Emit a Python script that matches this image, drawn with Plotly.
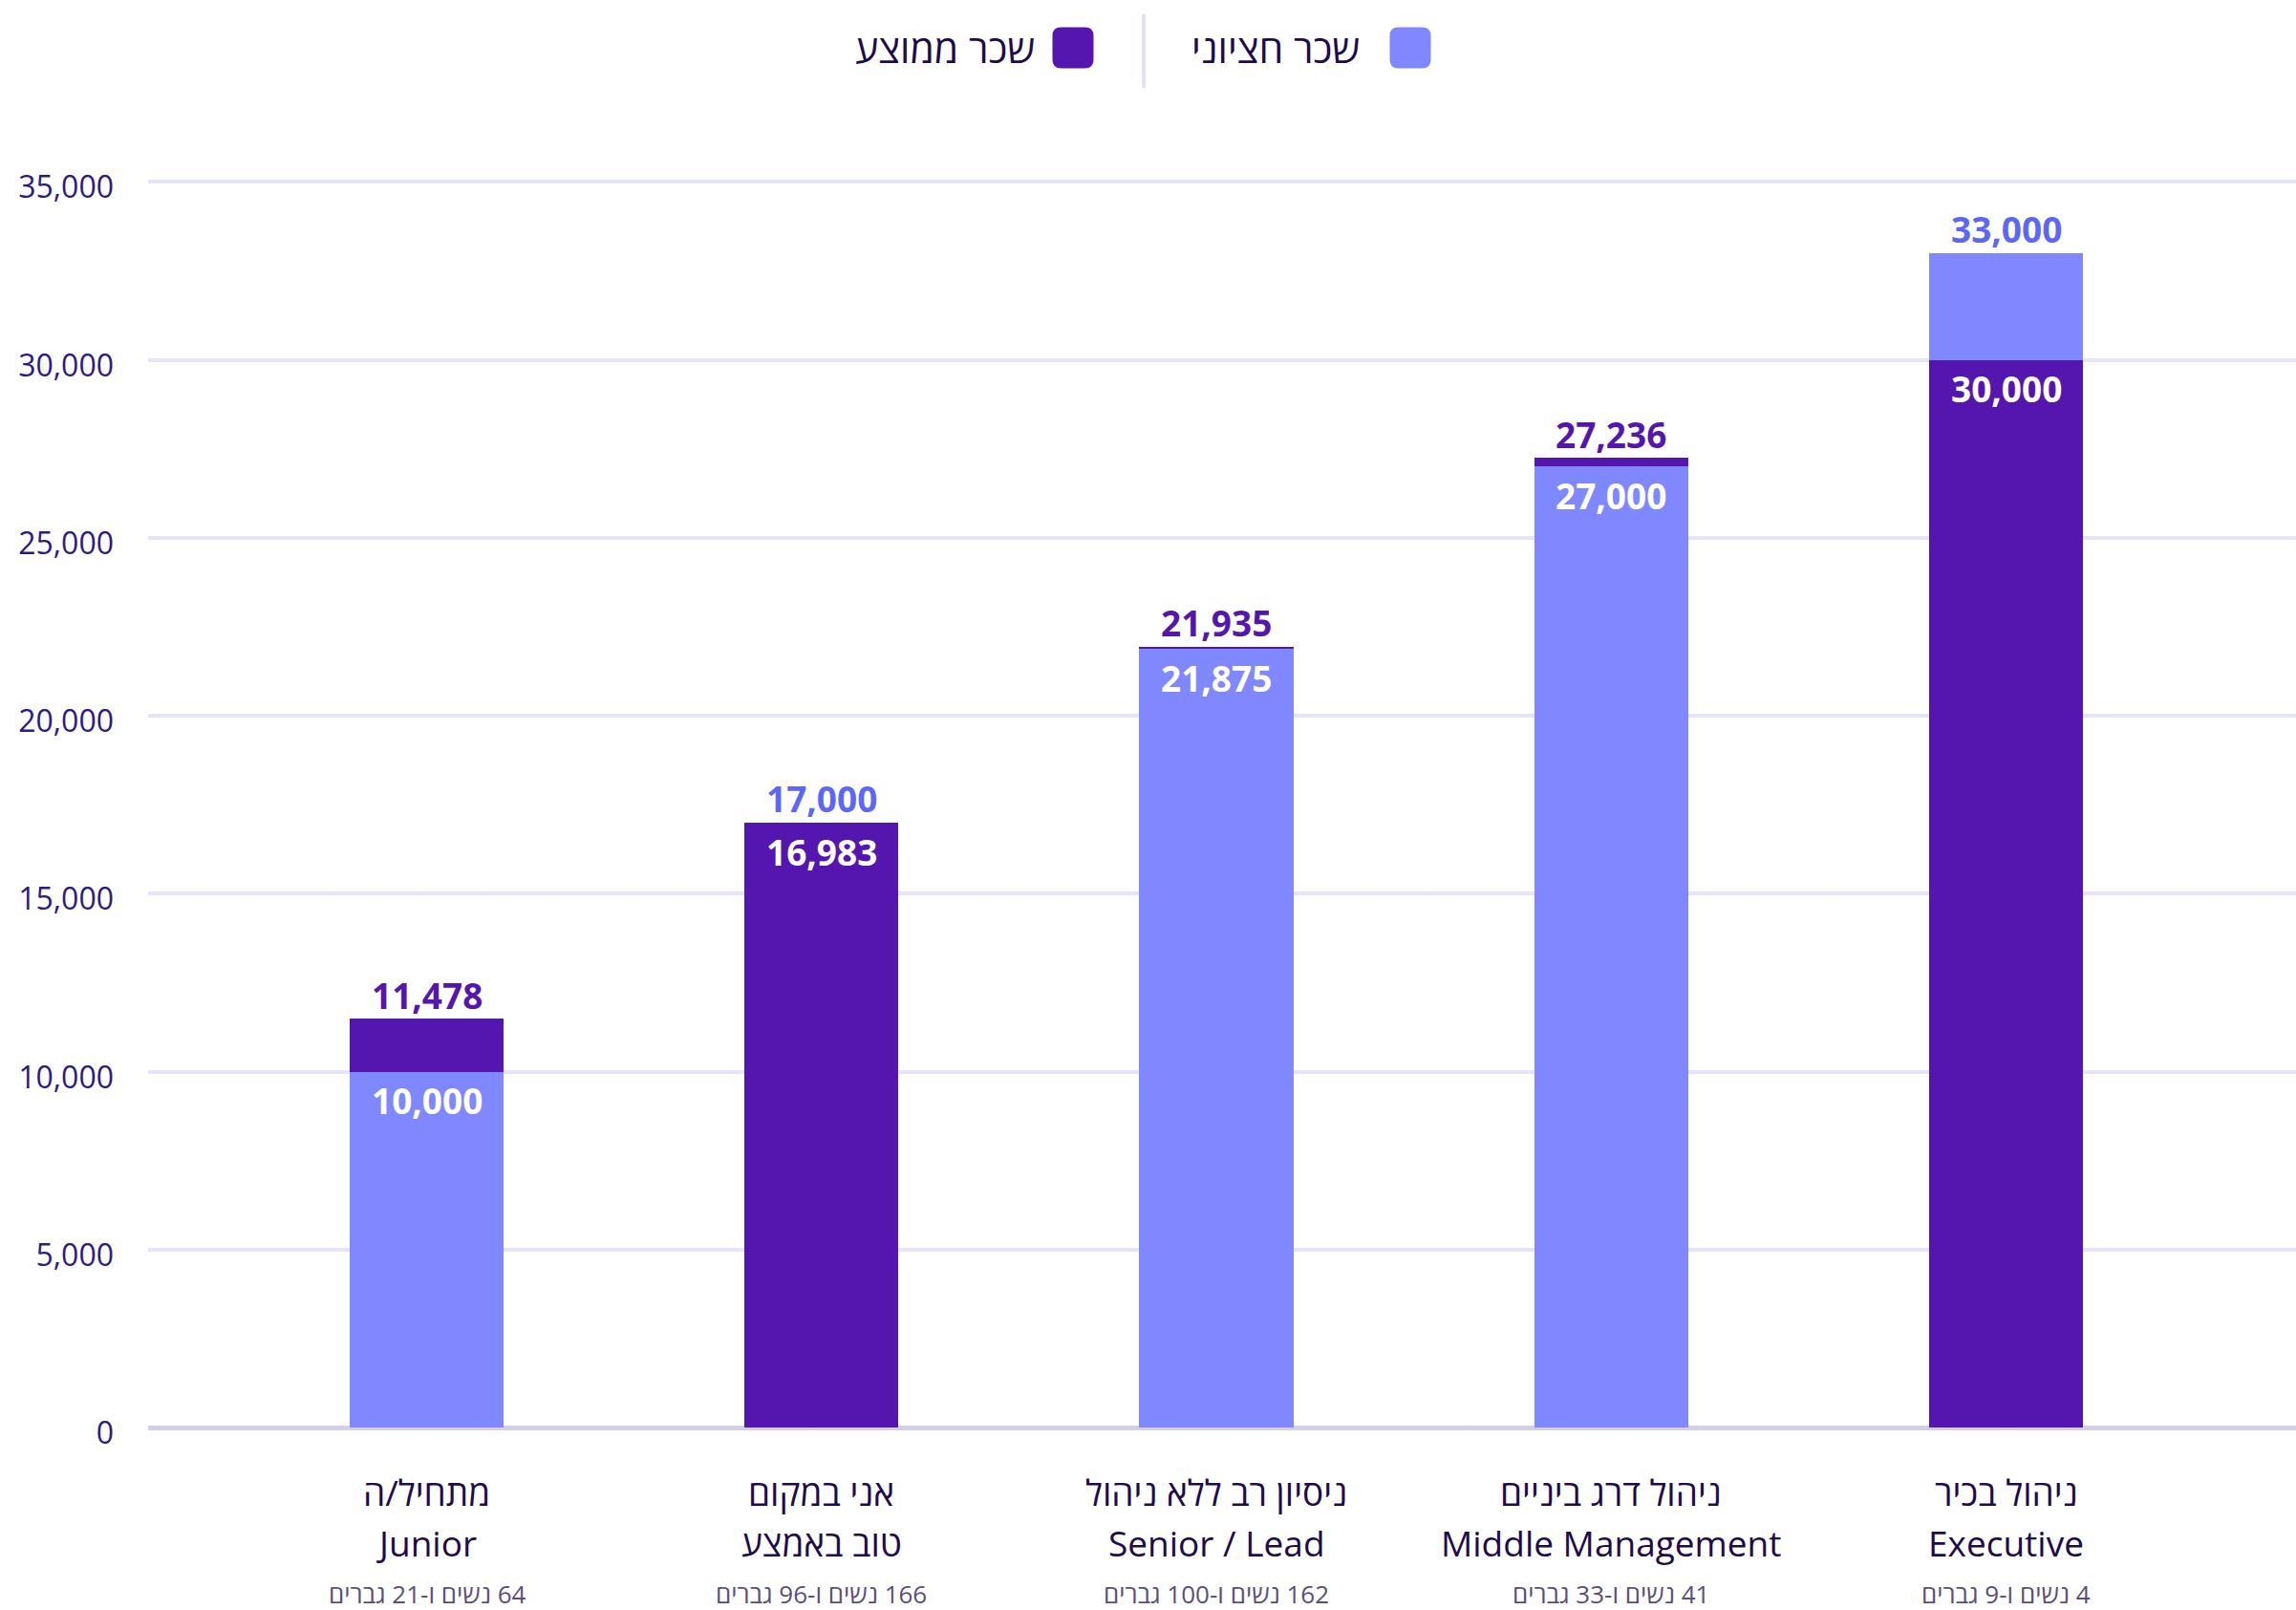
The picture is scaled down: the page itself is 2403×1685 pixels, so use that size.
import plotly.graph_objects as go

# ---- data ----
categories = ["Junior", "Mid", "Senior / Lead", "Middle Management", "Executive"]
labels_he = ["מתחיל/ה", "אני במקום", "ניסיון רב ללא ניהול", "ניהול דרג ביניים", "ניהול בכיר"]
labels_en = ["Junior", "טוב באמצע", "Senior / Lead", "Middle Management", "Executive"]
counts = ["64 נשים ו-21 גברים", "166 נשים ו-96 גברים", "162 נשים ו-100 גברים",
          "41 נשים ו-33 גברים", "4 נשים ו-9 גברים"]
median_salary = [10000, 17000, 21875, 27000, 33000]
average_salary = [11478, 16983, 21935, 27236, 30000]
series_names = ["שכר חציוני", "שכר ממוצע"]
y_ticks = [0, 5000, 10000, 15000, 20000, 25000, 30000, 35000]

# ---- style ----
W, H = 2403, 1685
ML, MR, MT, MB = 155, 0, 153, 191
C_MED = "#8088FF"
C_AVG = "#5416AE"
C_MED_TXT = "#5C67F7"
C_AVG_TXT = "#5516AE"
FONT = "Open Sans"
RLE, PDF = "\u202b", "\u202c"
PW = W - ML - MR
PH = H - MT - MB

back_vals, back_cols, front_vals, front_cols, back_txtcol = [], [], [], [], []
for m, a in zip(median_salary, average_salary):
    if m >= a:
        back_vals.append(m); back_cols.append(C_MED); back_txtcol.append(C_MED_TXT)
        front_vals.append(a); front_cols.append(C_AVG)
    else:
        back_vals.append(a); back_cols.append(C_AVG); back_txtcol.append(C_AVG_TXT)
        front_vals.append(m); front_cols.append(C_MED)

fig = go.Figure()
fig.add_trace(go.Bar(x=categories, y=back_vals, marker=dict(color=back_cols, line=dict(width=0)),
                     width=0.39, showlegend=False, hoverinfo="skip"))
fig.add_trace(go.Bar(x=categories, y=front_vals, marker=dict(color=front_cols, line=dict(width=0)),
                     width=0.39, showlegend=False, hoverinfo="skip"))

ann = []
for i, c in enumerate(categories):
    ann.append(dict(x=c, y=back_vals[i], xref="x", yref="y", text=f"<b>{back_vals[i]:,}</b>",
                    showarrow=False, yanchor="middle", yshift=25,
                    font=dict(family=FONT, size=37, color=back_txtcol[i])))
    ann.append(dict(x=c, y=front_vals[i], xref="x", yref="y", text=f"<b>{front_vals[i]:,}</b>",
                    showarrow=False, yanchor="middle", yshift=-30,
                    font=dict(family=FONT, size=37, color="#FFFFFF")))
    ann.append(dict(x=c, y=0, xref="x", yref="paper", text=labels_he[i], showarrow=False,
                    yanchor="middle", yshift=-67, font=dict(family=FONT, size=37, color="#1E0B4B")))
    ann.append(dict(x=c, y=0, xref="x", yref="paper", text=labels_en[i], showarrow=False,
                    yanchor="middle", yshift=-120, font=dict(family=FONT, size=37, color="#1E0B4B")))
    ann.append(dict(x=c, y=0, xref="x", yref="paper", text=RLE + counts[i] + PDF, showarrow=False,
                    yanchor="middle", yshift=-174, font=dict(family=FONT, size=26, color="#5B4E7A")))

def px2x(px):
    return (px - ML) / PW

def px2y(py):
    return (H - MB - py) / PH

# legend (RTL: swatch on the right of text)
legend_items = [(series_names[0], C_MED, 1476, 1425), (series_names[1], C_AVG, 1123, 1085)]
r, h = 9, 21.5
path = (f"M {-h+r},{-h} L {h-r},{-h} Q {h},{-h} {h},{-h+r} L {h},{h-r} Q {h},{h} {h-r},{h} "
        f"L {-h+r},{h} Q {-h},{h} {-h},{h-r} L {-h},{-h+r} Q {-h},{-h} {-h+r},{-h} Z")
shapes = []
for name, col, sx, tx in legend_items:
    shapes.append(dict(type="path", xref="paper", yref="paper", xsizemode="pixel", ysizemode="pixel",
                       xanchor=px2x(sx), yanchor=px2y(50), path=path, fillcolor=col,
                       line=dict(width=0)))
    ann.append(dict(x=px2x(tx), y=px2y(50), xref="paper", yref="paper", text=name, showarrow=False,
                    xanchor="right", yanchor="middle",
                    font=dict(family=FONT, size=41, color="#1E0B4B")))
shapes.append(dict(type="line", xref="paper", yref="paper", x0=px2x(1197), x1=px2x(1197),
                   y0=px2y(15), y1=px2y(92), line=dict(color="#E2E3FA", width=4)))

fig.update_layout(
    width=W, height=H, autosize=False,
    margin=dict(l=ML, r=MR, t=MT, b=MB, pad=0),
    paper_bgcolor="white", plot_bgcolor="white",
    barmode="overlay", bargap=0,
    annotations=ann, shapes=shapes, showlegend=False,
    xaxis=dict(type="category", range=[-0.7054, 4.7344], showticklabels=False, showgrid=False,
               zeroline=False, showline=False, ticks="", fixedrange=True),
    yaxis=dict(range=[0, 36000], tickvals=y_ticks, tickformat=",", showgrid=True,
               gridcolor="#E4E4FB", gridwidth=4, zeroline=True, zerolinecolor="#D5CFE4",
               zerolinewidth=5, showline=False, ticks="", ticklabelstandoff=35,
               ticklabelshift=6,
               tickfont=dict(family=FONT, size=32, color="#2D1B84"), fixedrange=True),
)

fig.write_html("out.html", config={"displayModeBar": False},
               post_script="document.body.style.margin='0';document.body.style.overflow='hidden';")
